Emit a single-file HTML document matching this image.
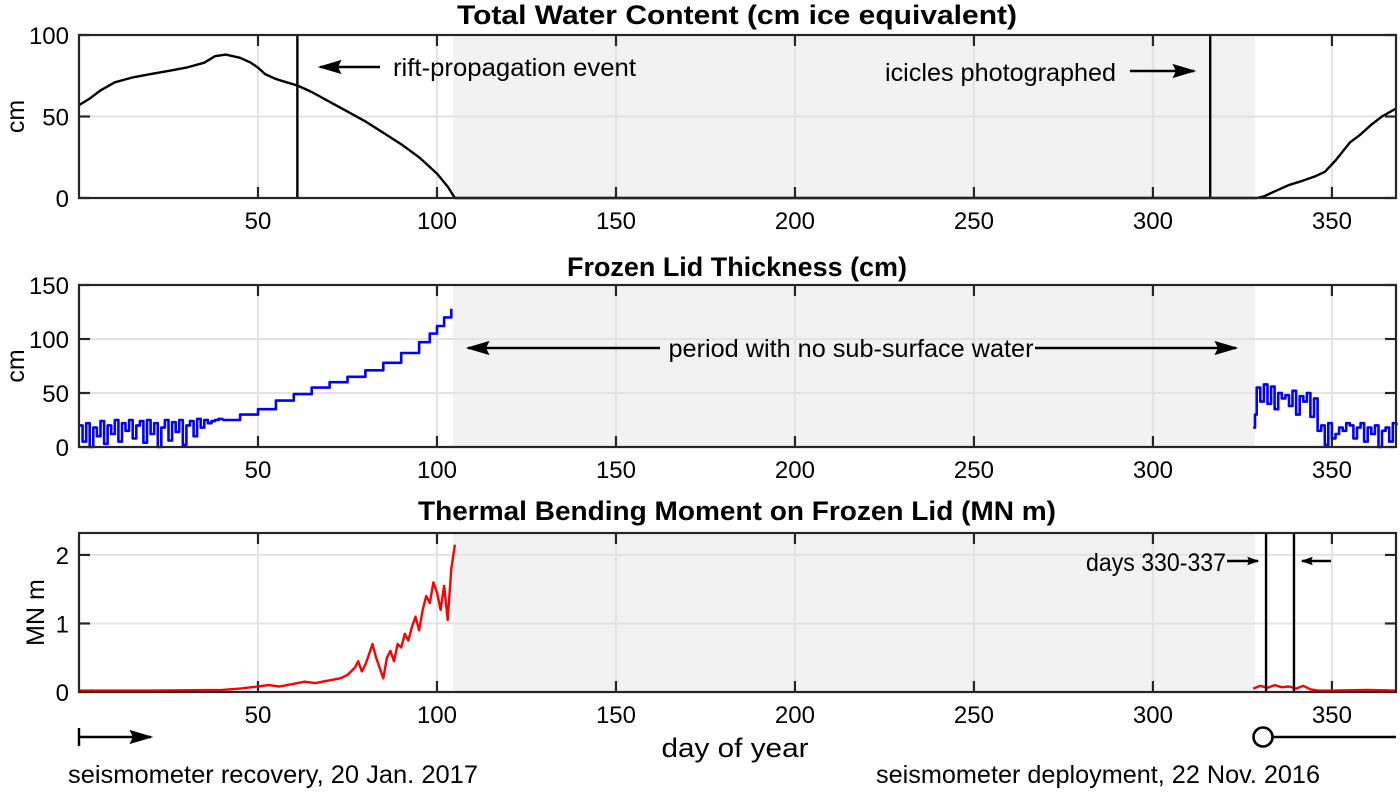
<!DOCTYPE html>
<html><head><meta charset="utf-8">
<style>
body{margin:0;background:#fff;}
svg text{font-family:"Liberation Sans",Arial,sans-serif;fill:#000;}
</style></head>
<body>
<svg id="chart" width="1400" height="790" viewBox="0 0 1400 790" xmlns="http://www.w3.org/2000/svg">
<defs>
<marker id="ah" viewBox="0 0 10 10" refX="9" refY="5" markerWidth="12" markerHeight="12" orient="auto-start-reverse" markerUnits="userSpaceOnUse"><path d="M0,1.5 L10,5 L0,8.5 L1.5,5 z" fill="#000"/></marker>
<marker id="ah2" viewBox="0 0 10 10" refX="9" refY="5" markerWidth="24" markerHeight="24" orient="auto-start-reverse" markerUnits="userSpaceOnUse"><path d="M0,2 L10,5 L0,8 L1.5,5 z" fill="#000"/></marker>
</defs>
</svg>
<script>
// ---- data ----
const xTicks = [50,100,150,200,250,300,350];
const shadeRange = [104.5, 328.5];
const waterDays = [0,3,6,10,15,20,25,30,35,38,41,45,48,50,52,55,58,61,65,70,75,80,85,90,95,100,103,105,329,331,335,338,341,345,348,351,355,358,361,364,368];
const waterVals = [57,61,66,71,74,76,78,80,83,87,88,86,83,80,76,73,71,69,65,59,53,47,40,33,25,15,7,0,0,1,5,8,10,13,16,23,34,39,45,50,55];
const lidEarly = [20,5,22,0,18,10,24,3,20,12,25,5,22,15,25,8,20,24,4,25,12,22,0,18,25,6,23,14,25,2,20,24,10,26,18,25,22,24,25,26,27];
const lidMidDays = [40,45,50,55,60,65,70,75,80,85,90,95,98,100,102,104];
const lidMidVals = [25,30,35,43,49,55,60,65,71,78,87,97,105,112,120,128];
const lidLateDays = [328,328.5,329,330,331,332,333,334,335,336,337,338,339,340,341,342,343,344,345,346,347,348,349,350,351,352,353,354,355,356,357,358,359,360,361,362,363,364,365,366,367,368];
const lidLateVals = [18,30,55,42,58,40,56,35,50,45,48,38,52,30,47,42,50,28,45,15,20,2,22,8,12,18,15,22,20,8,18,22,5,18,12,20,0,15,18,5,22,20];
const momDays = [0,20,40,45,50,53,56,60,63,66,70,73,75,77,78,79,80,81,82,83,84,85,86,87,88,89,90,91,92,93,94,95,96,97,98,99,100,101,102,103,104,105];
const momVals = [0.02,0.02,0.03,0.05,0.08,0.1,0.08,0.12,0.15,0.13,0.17,0.2,0.25,0.35,0.45,0.3,0.4,0.55,0.7,0.5,0.35,0.2,0.5,0.6,0.45,0.7,0.65,0.85,0.75,0.95,1.1,0.9,1.2,1.4,1.3,1.6,1.45,1.2,1.55,1.05,1.8,2.15];
const momLateDays = [328,330,332,334,336,338,340,342,344,346,350,360,368];
const momLateVals = [0.05,0.09,0.06,0.1,0.07,0.08,0.05,0.09,0.04,0.02,0.02,0.03,0.02];
const events = [61, 316];
const windowDays = [331.6, 339.4];

// ---- layout ----
const svg = document.getElementById('chart');
const NS = 'http://www.w3.org/2000/svg';
const X0 = 79, X1 = 1396, DMAX = 367.9;
const xs = d => X0 + d*(X1-X0)/DMAX;
function mk(tag, attrs, parent){const e=document.createElementNS(NS,tag);for(const k in attrs)e.setAttribute(k,attrs[k]);(parent||svg).appendChild(e);return e;}
function txt(s,x,y,attrs,len){const t=mk('text',Object.assign({x:x,y:y,'font-size':25},attrs||{}));if(len){t.setAttribute('textLength',len);t.setAttribute('lengthAdjust','spacingAndGlyphs');}t.textContent=s;return t;}

const panels = [
 {name:'water', top:35, bot:198, ymax:100, yt:[0,50,100], title:'Total Water Content (cm ice equivalent)', ty:24, tl:560, ylab:'cm', lx:24},
 {name:'lid', top:285, bot:447, ymax:150, yt:[0,50,100,150], title:'Frozen Lid Thickness (cm)', ty:276, tl:340, ylab:'cm', lx:24},
 {name:'moment', top:533, bot:692, ymax:2.32, yt:[0,1,2], title:'Thermal Bending Moment on Frozen Lid (MN m)', ty:520, tl:638, ylab:'MN m', lx:44}
];
panels.forEach(p=>{p.ys=v=>p.bot-v*(p.bot-p.top)/p.ymax;});

function line(pts, color, name, w, parent){
  const d = pts.map((q,i)=>(i?'L':'M')+q[0].toFixed(1)+','+q[1].toFixed(1)).join('');
  const e = mk('path',{d:d,fill:'none',stroke:color,'stroke-width':w||2.2,'stroke-linejoin':'round'},parent);
  
  
  return e;
}
function steps(days, vals, ys){const pts=[];for(let i=0;i<days.length;i++){if(i)pts.push([xs(days[i]),ys(vals[i-1])]);pts.push([xs(days[i]),ys(vals[i])]);}return pts;}

panels.forEach(p=>{
  const g = mk('g',{});
  
  
  const sh = mk('rect',{x:xs(shadeRange[0]),y:p.top,width:xs(shadeRange[1])-xs(shadeRange[0]),height:p.bot-p.top,fill:'#f2f2f2'},g);
  
  
  xTicks.forEach(t=>{
    mk('line',{x1:xs(t),x2:xs(t),y1:p.top,y2:p.bot,stroke:'#e3e3e3','stroke-width':2},g);
  });
  p.yt.forEach(t=>{ if(t>0&&t<p.ymax) mk('line',{x1:X0,x2:X1,y1:p.ys(t),y2:p.ys(t),stroke:'#e3e3e3','stroke-width':2},g);});
  xTicks.forEach(t=>{
    mk('line',{x1:xs(t),x2:xs(t),y1:p.bot,y2:p.bot-11,stroke:'#262626','stroke-width':2.2},g);
    mk('line',{x1:xs(t),x2:xs(t),y1:p.top,y2:p.top+11,stroke:'#262626','stroke-width':2.2},g);
    const tl = txt(String(t),xs(t),p.bot+31,{'text-anchor':'middle','font-size':24});
    
    
  });
  p.yt.forEach(t=>{
    mk('line',{x1:X0,x2:X0+11,y1:p.ys(t),y2:p.ys(t),stroke:'#262626','stroke-width':2.2},g);
    mk('line',{x1:X1,x2:X1-11,y1:p.ys(t),y2:p.ys(t),stroke:'#262626','stroke-width':2.2},g);
    const yl = txt(String(t),X0-10,p.ys(t)+9,{'text-anchor':'end','font-size':24});
    
    
  });
  const ttl = txt(p.title,737,p.ty,{'text-anchor':'middle','font-size':27,'font-weight':'bold'},p.tl);
  
  
  const yl = txt(p.ylab,0,0,{'text-anchor':'middle','font-size':25,transform:'translate('+p.lx+','+((p.top+p.bot)/2)+') rotate(-90)'});
  
  
  p.g = g;
});

// series
const P1=panels[0],P2=panels[1],P3=panels[2];
line(waterDays.map((d,i)=>[xs(d),P1.ys(waterVals[i])]),'#000','water-content-line',2.4,P1.g);
line(steps(lidEarly.map((v,i)=>i),lidEarly,P2.ys),'#0000ff','lid-thickness-early',2.6,P2.g);
line(steps(lidMidDays,lidMidVals,P2.ys),'#0000ff','lid-thickness-growth',2.6,P2.g);
line(steps(lidLateDays,lidLateVals,P2.ys),'#0000ff','lid-thickness-late',2.6,P2.g);
line(momDays.map((d,i)=>[xs(d),P3.ys(momVals[i])]),'#ff0000','bending-moment-early',2.4,P3.g);
line(momLateDays.map((d,i)=>[xs(d),P3.ys(momLateVals[i])]),'#ff0000','bending-moment-late',2.4,P3.g);

events.forEach(d=>{const l=mk('line',{x1:xs(d),x2:xs(d),y1:P1.top,y2:P1.bot,stroke:'#000','stroke-width':2.4},P1.g);
});
windowDays.forEach(d=>{const l=mk('line',{x1:xs(d),x2:xs(d),y1:P3.top,y2:P3.bot,stroke:'#000','stroke-width':2.4},P3.g);
});

// frames
panels.forEach(p=>{mk('rect',{x:X0,y:p.top,width:X1-X0,height:p.bot-p.top,fill:'none',stroke:'#262626','stroke-width':2.2},p.g);});

// annotations
function arrow(x1,y1,x2,y2,name,big){const a=mk('line',{x1:x1,y1:y1,x2:x2,y2:y2,stroke:'#000','stroke-width':2.4,'marker-end':big?'url(#ah2)':'url(#ah)'});
return a;}
arrow(380,67,320,67,'rift-arrow',true);
let t=txt('rift-propagation event',393,76,{},243);
t=txt('icicles photographed',1116,81,{'text-anchor':'end'},231);
arrow(1130,71,1194,71,'icicles-arrow',true);
arrow(660,348,468,348,'period-arrow-left',true);
t=txt('period with no sub-surface water',851,357,{'text-anchor':'middle'},365);
arrow(1035,348,1236,348,'period-arrow-right',true);
t=txt('days 330-337',1226,571,{'text-anchor':'end'},140);
arrow(1227,561,1258,561,'window-arrow-right',false);
arrow(1331,561,1302,561,'window-arrow-left',false);

// x axis title and bottom annotations
t=txt('day of year',735,757,{'text-anchor':'middle','font-size':27},147);
let l=mk('line',{x1:79,y1:728,x2:79,y2:746,stroke:'#000','stroke-width':2.4});
arrow(79,737,151,737,'recovery-arrow',true);
t=txt('seismometer recovery, 20 Jan. 2017',68,783,{},410);
l=mk('line',{x1:1272,y1:737,x2:1396,y2:737,stroke:'#000','stroke-width':2.4});
const c=mk('circle',{cx:1263,cy:737,r:9.5,fill:'#fff',stroke:'#000','stroke-width':2.6});
t=txt('seismometer deployment, 22 Nov. 2016',1320,783,{'text-anchor':'end'},444);
</script>
</body></html>
